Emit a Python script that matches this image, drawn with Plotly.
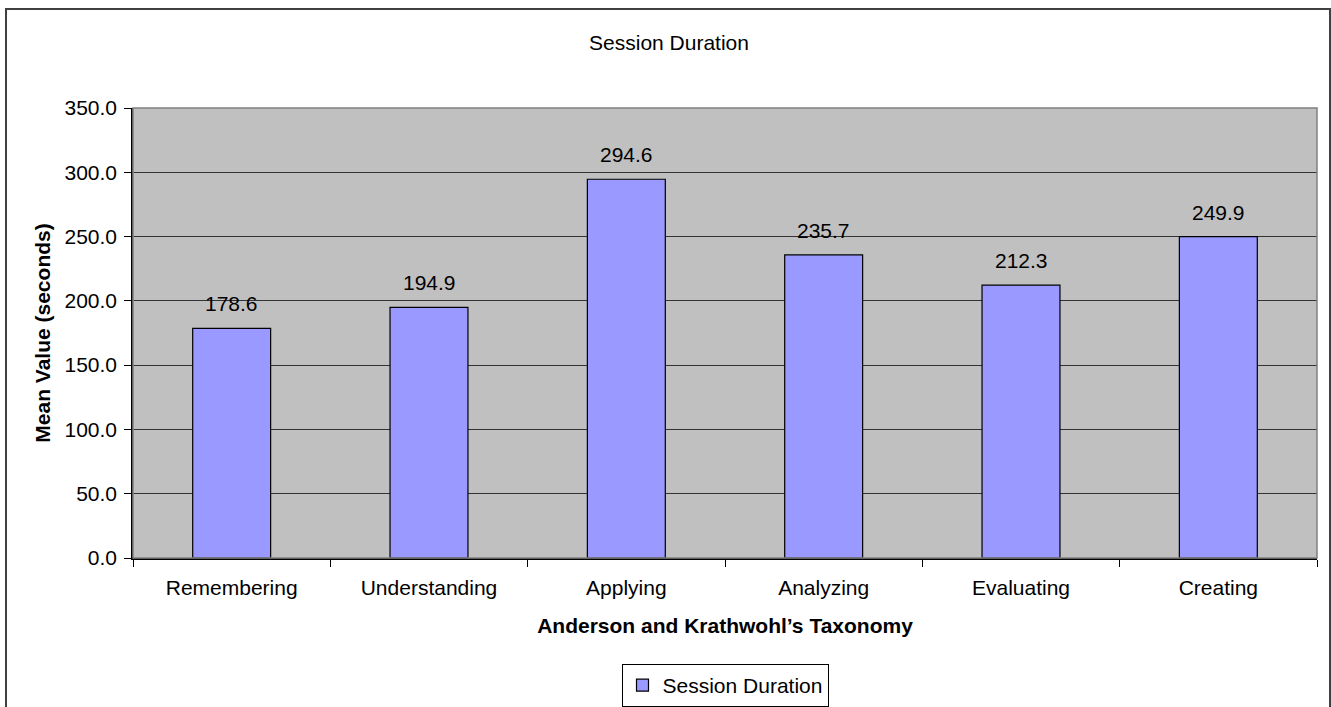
import plotly.graph_objects as go

# Data
categories = ["Remembering", "Understanding", "Applying", "Analyzing", "Evaluating", "Creating"]
session_duration = [178.6, 194.9, 294.6, 235.7, 212.3, 249.9]
series_name = "Session Duration"

# Canvas / plot-area geometry (pixels)
W, H = 1331, 707
ML, MR, MT, MB = 133, 14, 108, 149
PW = W - ML - MR
PH = H - MT - MB

def px_x(x):
    return (x - ML) / PW

def px_y(y):
    return (H - MB - y) / PH

FONT = "Liberation Sans, Arial, sans-serif"
FS = 21

fig = go.Figure()
fig.add_trace(go.Bar(
    x=categories,
    y=session_duration,
    name=series_name,
    marker=dict(color="#9999FF", line=dict(color="#000000", width=1.2)),
    showlegend=True,
))

# Value labels above each bar
for cat, val in zip(categories, session_duration):
    fig.add_annotation(
        x=cat, y=val, text=f"{val:.1f}", showarrow=False,
        yanchor="bottom", yshift=11,
        font=dict(family=FONT, size=FS, color="#000000"),
    )

fig.update_layout(
    width=W, height=H,
    margin=dict(l=ML, r=MR, t=MT, b=MB, pad=0, autoexpand=False),
    paper_bgcolor="#FFFFFF",
    plot_bgcolor="#C0C0C0",
    bargap=0.605,
    font=dict(family=FONT, size=FS, color="#000000"),
    title=dict(text="Session Duration", x=669 / W, xanchor="center",
               y=1 - 43 / H, yanchor="middle",
               font=dict(family=FONT, size=FS, color="#000000")),
    legend=dict(
        orientation="h", x=0.5, xanchor="center",
        y=px_y(664), yanchor="top",
        bordercolor="#000000", borderwidth=1,
        bgcolor="#FFFFFF",
        font=dict(family=FONT, size=FS, color="#000000"),
        itemwidth=30,
    ),
    xaxis=dict(
        type="category", automargin=False,
        showline=True, linecolor="#000000", linewidth=1.5,
        ticks="outside", tickson="boundaries", ticklen=7, tickcolor="#000000", tickwidth=1,
        ticklabelstandoff=10,
        showgrid=False,
        tickfont=dict(family=FONT, size=FS),
        title=dict(text="<b>Anderson and Krathwohl’s Taxonomy</b>",
                   font=dict(family=FONT, size=FS), standoff=20),
    ),
    yaxis=dict(
        range=[0, 350], dtick=50, tickformat=".1f", automargin=False,
        showline=True, linecolor="#000000", linewidth=1.5,
        ticks="outside", ticklen=7, tickcolor="#000000", tickwidth=1,
        ticklabelstandoff=3,
        showgrid=True, gridcolor="#333333", gridwidth=1,
        zeroline=False,
        tickfont=dict(family=FONT, size=FS),
        title=dict(text="<b>Mean Value (seconds)</b>",
                   font=dict(family=FONT, size=FS), standoff=8),
    ),
    shapes=[
        # plot-area frame (top and right edges)
        dict(type="rect", xref="paper", yref="paper", x0=0, x1=1, y0=0, y1=1,
             line=dict(color="#808080", width=1.5), layer="above"),
        # outer chart frame
        dict(type="rect", xref="paper", yref="paper",
             x0=px_x(6), x1=px_x(1330), y0=px_y(715), y1=px_y(9),
             line=dict(color="#404040", width=2)),
    ],
)

fig.write_html("out.html")
